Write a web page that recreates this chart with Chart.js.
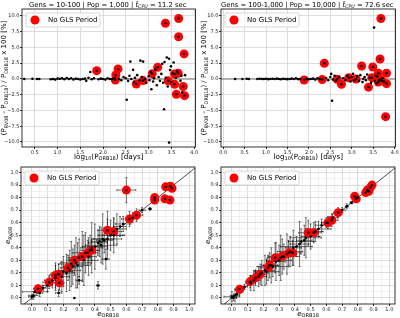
<!DOCTYPE html>
<html>
<head>
<meta charset="utf-8">
<script src="https://cdn.jsdelivr.net/npm/chart.js@4.4.1/dist/chart.umd.min.js"></script>
<style>
body { margin: 0; background: #fff; }
#wrap { position: relative; width: 400px; height: 318px; background: #fff; }
canvas { position: absolute; }
</style>
</head>
<body>
<div id="wrap">
<canvas id="chartTL" width="200" height="162" style="left:0;top:0;width:200px;height:162px"></canvas>
<canvas id="chartTR" width="200" height="162" style="left:200px;top:0;width:200px;height:162px"></canvas>
<canvas id="chartBL" width="200" height="156" style="left:0;top:162px;width:200px;height:156px"></canvas>
<canvas id="chartBR" width="200" height="156" style="left:200px;top:162px;width:200px;height:156px"></canvas>
</div>
<script>
// top left: Gens 10-100, period difference vs log10 P
const tlX = [0.27,0.45,0.55,0.6,0.85,0.9,0.95,1.0,1.05,1.1,1.15,1.2,1.25,1.3,1.35,1.4,1.45,1.5,1.55,1.6,1.63,1.68,1.72,1.75,1.8,1.9,1.95,2.0,2.05,2.1,2.15,2.2,2.25,2.35,2.4,2.45,2.5,2.52,2.55,2.58,2.6,2.62,2.66,2.68,2.7,2.75,2.8,2.82,2.85,2.88,2.92,2.95,3.0,3.02,3.05,3.06,3.1,3.12,3.15,3.18,3.22,3.25,3.28,3.3,3.32,3.34,3.35,3.38,3.4,3.42,3.45,3.45,3.47,3.49,3.5,3.53,3.55,3.6,3.63,3.7,3.72,3.74,3.8];
const tlY = [0.0,0.02,-0.02,0.0,-0.05,0.0,-0.1,0.05,0.02,0.1,-0.05,0.15,0.0,0.1,-0.08,0.05,-0.02,-0.1,0.0,0.05,-0.3,0.2,1.1,-0.05,0.1,-0.05,0.05,0.0,-0.1,0.1,0.0,-0.05,0.15,0.0,-0.2,0.3,0.1,-3.3,-0.3,0.5,2.75,0.0,1.44,-0.5,0.2,0.6,-0.2,2.9,0.3,2.75,0.0,-0.6,0.4,-0.2,1.1,-1.63,-0.4,0.13,1.5,-1.0,0.3,-0.3,0.8,2.4,-0.6,-4.8,2.7,0.2,3.4,-1.2,3.2,-10.1,1.4,2.0,-0.5,0.9,2.6,0.2,1.2,-0.3,0.5,-2.1,0.6];
const tlNgX = [1.86,2.27,2.28,2.33,2.73,2.88,3.08,3.2,3.37,3.43,3.57,3.57,3.65,3.61,3.66,3.66,3.78,3.76,3.79];
const tlNgY = [1.32,-0.16,0.63,1.59,-0.8,-0.26,0.84,1.86,8.84,-0.3,-0.85,0.79,0.9,-2.43,9.6,6.7,3.97,-1.2,-2.65];

// top right: Gens 100-1,000
const trX = [0.28,0.45,0.55,0.6,0.8,0.85,0.9,0.95,1.0,1.05,1.1,1.15,1.2,1.25,1.3,1.35,1.4,1.45,1.5,1.55,1.6,1.65,1.7,1.75,1.8,1.95,2.0,2.05,2.1,2.15,2.2,2.25,2.4,2.45,2.5,2.52,2.54,2.56,2.6,2.63,2.7,2.8,2.85,2.9,2.97,3.0,3.03,3.05,3.13,3.17,3.2,3.25,3.27,3.3,3.33,3.36,3.42,3.45,3.52,3.54,3.56,3.58,3.6,3.64,3.72,3.75];
const trY = [0.0,0.0,0.02,-0.02,0.0,0.02,-0.02,0.0,0.03,-0.03,0.0,0.02,-0.02,0.05,0.0,-0.05,0.02,0.0,-0.03,0.0,0.05,0.0,0.1,-0.05,0.0,0.05,-0.05,0.0,0.05,-0.1,0.1,0.0,0.15,-0.2,0.3,0.8,-3.45,-0.1,0.5,-0.3,0.3,0.1,-0.2,0.5,-0.4,0.3,0.8,-0.2,0.4,-0.3,0.6,-0.5,0.0,0.3,-0.2,0.7,0.2,-0.6,8.15,-0.3,0.5,-0.7,0.4,-0.2,0.1,-0.4];
const trNgX = [1.89,2.31,2.36,2.66,2.76,2.93,3.1,3.23,3.39,3.47,3.49,3.62,3.66,3.66,3.68,3.62,3.7,3.81,3.81,3.79];
const trNgY = [-0.16,-0.1,2.49,-0.05,-0.84,0.19,0.0,2.06,-1.3,0.2,1.9,0.9,3.17,-0.1,9.6,-0.5,-0.3,0.9,-0.75,-5.98];

// bottom left: eccentricities, Gens 10-100
const blX = [0.0,0.01,0.02,0.07,0.13,0.17,0.2,0.22,0.25,0.26,0.27,0.28,0.3,0.3,0.34,0.37,0.4,0.42,0.42,0.44,0.45,0.46,0.47,0.5,0.54,0.56,0.58,0.64,0.7,0.75,0.15,0.19,0.24,0.29,0.33,0.36,0.38,0.43,0.48,0.52,0.1,0.05];
const blY = [0.01,0.02,0.05,0.08,0.14,0.04,0.21,0.2,0.27,0.25,0.0,0.28,0.32,0.14,0.36,0.38,0.41,0.1,0.44,0.42,0.47,0.46,0.31,0.5,0.55,0.57,0.59,0.64,0.7,0.71,0.16,0.17,0.22,0.26,0.3,0.33,0.4,0.45,0.47,0.5,0.1,0.04];
const blXErr = [0.02,0.03,0.08,0.02,0.05,0.02,0.06,0.05,0.08,0.06,0,0.1,0.07,0.02,0.08,0.06,0.08,0.01,0.06,0.1,0.07,0.05,0.02,0.08,0.06,0.04,0.05,0.03,0.02,0.01,0.04,0.05,0.07,0.06,0.09,0.05,0.07,0.05,0.09,0.07,0.03,0.02];
const blYErr = [0.02,0.03,0.01,0.02,0.06,0.03,0.12,0.15,0.18,0.14,0,0.2,0.15,0.03,0.16,0.12,0.18,0.03,0.1,0.14,0.2,0.1,0.08,0.12,0.12,0.08,0.06,0.04,0.02,0.01,0.1,0.12,0.16,0.18,0.2,0.15,0.2,0.12,0.16,0.14,0.05,0.03];
const blNgX = [0.04,0.11,0.15,0.17,0.175,0.23,0.27,0.32,0.355,0.38,0.48,0.52,0.62,0.665,0.6,0.78,0.78,0.85,0.88,0.89,0.845,0.877];
const blNgY = [0.074,0.125,0.18,0.19,0.12,0.24,0.3,0.33,0.36,0.38,0.54,0.53,0.63,0.66,0.86,0.78,0.8,0.886,0.89,0.875,0.79,0.78];
const blNgXErr = [0.03,0.04,0.04,0.05,0.03,0.05,0.04,0.05,0.05,0.04,0.06,0.05,0.05,0.04,0.06,0.02,0.02,0.01,0.01,0.01,0.01,0.01];
const blNgYErr = [0.03,0.05,0.1,0.08,0.06,0.1,0.12,0.2,0.1,0.08,0.15,0.1,0.06,0.05,0.1,0.03,0.03,0.01,0.01,0.01,0.01,0.01];

// bottom right: eccentricities, Gens 100-1,000
const brX = [0.0,0.01,0.02,0.03,0.08,0.12,0.14,0.17,0.19,0.21,0.22,0.25,0.26,0.28,0.3,0.31,0.33,0.35,0.37,0.39,0.41,0.43,0.44,0.46,0.47,0.5,0.53,0.55,0.57,0.6,0.64,0.7,0.73,0.76,0.8,0.86];
const brY = [0.01,0.0,0.02,0.03,0.09,0.12,0.14,0.17,0.2,0.22,0.21,0.26,0.25,0.29,0.3,0.32,0.33,0.35,0.37,0.4,0.41,0.43,0.45,0.46,0.48,0.49,0.53,0.55,0.58,0.6,0.64,0.7,0.73,0.76,0.8,0.86];
const brXErr = [0.05,0.02,0.03,0.02,0.02,0.03,0.04,0.05,0.04,0.06,0.08,0.05,0.1,0.06,0.08,0.05,0.1,0.06,0.08,0.05,0.1,0.06,0.08,0.05,0.1,0.06,0.05,0.08,0.04,0.03,0.03,0.02,0.01,0.01,0.01,0.01];
const brYErr = [0.04,0.02,0.05,0.03,0.02,0.06,0.08,0.08,0.1,0.12,0.1,0.14,0.08,0.15,0.12,0.18,0.1,0.16,0.12,0.14,0.08,0.18,0.1,0.12,0.16,0.1,0.08,0.06,0.05,0.04,0.03,0.02,0.02,0.01,0.02,0.01];
const brNgX = [0.05,0.116,0.15,0.18,0.23,0.24,0.275,0.32,0.36,0.386,0.485,0.52,0.61,0.635,0.675,0.78,0.79,0.85,0.86,0.88,0.89,0.87];
const brNgY = [0.07,0.13,0.16,0.19,0.24,0.26,0.32,0.33,0.36,0.36,0.52,0.52,0.6,0.62,0.68,0.81,0.79,0.84,0.86,0.88,0.9,0.85];
const brNgXErr = [0.03,0.03,0.04,0.04,0.05,0.05,0.05,0.06,0.05,0.05,0.06,0.05,0.04,0.04,0.03,0.02,0.02,0.01,0.01,0.01,0.01,0.01];
const brNgYErr = [0.03,0.05,0.06,0.08,0.1,0.1,0.12,0.14,0.1,0.1,0.1,0.08,0.05,0.05,0.04,0.02,0.02,0.01,0.01,0.01,0.01,0.01];

// tick labels
const pctTicks = [-10, -7.5, -5, -2.5, 0, 2.5, 5, 7.5, 10];
const logTicksTL = [0.5, 1.0, 1.5, 2.0, 2.5, 3.0, 3.5, 4.0];
const logTicksTR = [0.0, 0.5, 1.0, 1.5, 2.0, 2.5, 3.0, 3.5, 4.0];
const eccTicks = [0, 0.1, 0.2, 0.3, 0.4, 0.5, 0.6, 0.7, 0.8, 0.9, 1.0];
const eccMinorX = [-0.05, 0.05, 0.15, 0.25, 0.35, 0.45, 0.55, 0.65, 0.75, 0.85, 0.95];
const eccMinorY = [0.05, 0.15, 0.25, 0.35, 0.45, 0.55, 0.65, 0.75, 0.85, 0.95];

const FONT = '"DejaVu Sans", sans-serif';
const RED = '#ff0000';

function pts(xs, ys) {
    return xs.map((x, i) => ({ x: x, y: ys[i] }));
}

function fmt(v) {
    return v.toFixed(1).replace('-', '\u2212');
}

// draws text with subscripts: parts = [[text, isSub, isItalic], ...]
function drawRich(ctx, parts, x, y, size, angle) {
    const subSize = size * 0.7;
    const fontFor = p => (p[2] ? 'italic ' : '') + (p[1] ? subSize : size) + 'px ' + FONT;
    ctx.save();
    ctx.translate(x, y);
    if (angle) ctx.rotate(angle);
    let w = 0;
    parts.forEach(p => { ctx.font = fontFor(p); w += ctx.measureText(p[0]).width; });
    let cx = -w / 2;
    ctx.fillStyle = '#000';
    ctx.textAlign = 'left';
    ctx.textBaseline = 'middle';
    parts.forEach(p => {
        ctx.font = fontFor(p);
        ctx.fillText(p[0], cx, p[1] ? size * 0.3 : 0);
        cx += ctx.measureText(p[0]).width;
    });
    ctx.restore();
}

const decor = {
    id: 'decor',
    beforeDatasetsDraw(chart) {
        const o = chart.options.plugins.decor;
        const { ctx, chartArea: a, scales } = chart;
        ctx.save();
        ctx.beginPath();
        ctx.rect(a.left, a.top, a.right - a.left, a.bottom - a.top);
        ctx.clip();
        if (o.zeroLine) {
            const y = scales.y.getPixelForValue(0);
            ctx.strokeStyle = '#9a9a9a';
            ctx.lineWidth = 1.6;
            ctx.beginPath();
            ctx.moveTo(a.left, y);
            ctx.lineTo(a.right, y);
            ctx.stroke();
        }
        if (o.diagonal) {
            const lo = Math.min(scales.x.min, scales.y.min);
            const hi = Math.max(scales.x.max, scales.y.max);
            ctx.strokeStyle = '#000';
            ctx.lineWidth = 0.7;
            ctx.beginPath();
            ctx.moveTo(scales.x.getPixelForValue(lo), scales.y.getPixelForValue(lo));
            ctx.lineTo(scales.x.getPixelForValue(hi), scales.y.getPixelForValue(hi));
            ctx.stroke();
        }
        // error bars
        chart.data.datasets.forEach(ds => {
            if (!ds.errX) return;
            ctx.strokeStyle = 'rgba(0,0,0,0.75)';
            ctx.lineWidth = 0.7;
            ds.data.forEach((p, i) => {
                const ex = ds.errX[i], ey = ds.errY[i];
                const px = scales.x.getPixelForValue(p.x);
                const py = scales.y.getPixelForValue(p.y);
                ctx.beginPath();
                if (ex > 0) {
                    const x0 = scales.x.getPixelForValue(p.x - ex);
                    const x1 = scales.x.getPixelForValue(p.x + ex);
                    ctx.moveTo(x0, py); ctx.lineTo(x1, py);
                    ctx.moveTo(x0, py - 1); ctx.lineTo(x0, py + 1);
                    ctx.moveTo(x1, py - 1); ctx.lineTo(x1, py + 1);
                }
                if (ey > 0) {
                    const y0 = scales.y.getPixelForValue(p.y - ey);
                    const y1 = scales.y.getPixelForValue(p.y + ey);
                    ctx.moveTo(px, y0); ctx.lineTo(px, y1);
                    ctx.moveTo(px - 1, y0); ctx.lineTo(px + 1, y0);
                    ctx.moveTo(px - 1, y1); ctx.lineTo(px + 1, y1);
                }
                ctx.stroke();
            });
        });
        ctx.restore();
    },
    afterDatasetsDraw(chart) {
        // legend box
        const { ctx, chartArea: a } = chart;
        const lx = a.left + 4, ly = a.top + 4, lw = 74, lh = 14;
        ctx.save();
        ctx.fillStyle = 'rgba(255,255,255,0.8)';
        ctx.strokeStyle = '#cccccc';
        ctx.lineWidth = 0.8;
        ctx.beginPath();
        ctx.roundRect(lx, ly, lw, lh, 2);
        ctx.fill();
        ctx.stroke();
        ctx.fillStyle = RED;
        ctx.beginPath();
        ctx.arc(lx + 9, ly + lh / 2, 4.5, 0, Math.PI * 2);
        ctx.fill();
        ctx.fillStyle = '#000';
        ctx.font = '7px ' + FONT;
        ctx.textBaseline = 'middle';
        ctx.fillText('No GLS Period', lx + 22, ly + lh / 2 + 0.5);
        ctx.restore();
    },
    afterDraw(chart) {
        const o = chart.options.plugins.decor;
        const { ctx, chartArea: a } = chart;
        ctx.save();
        ctx.strokeStyle = '#000';
        ctx.lineWidth = 0.8;
        ctx.strokeRect(a.left, a.top, a.right - a.left, a.bottom - a.top);
        ctx.restore();
        const cx = (a.left + a.right) / 2, cy = (a.top + a.bottom) / 2;
        if (o.title) drawRich(ctx, o.title, cx - 1, 5, 6.8, 0);
        drawRich(ctx, o.xTitle, cx, o.xTitleY, 7.2, 0);
        drawRich(ctx, o.yTitle, o.yTitleX, cy, 7, -Math.PI / 2);
    }
};
Chart.register(decor);

function axis(min, max, major, minor, fitSize, isX) {
    const all = major.concat(minor).filter(v => v >= min && v <= max);
    return {
        type: 'linear',
        min: min,
        max: max,
        afterBuildTicks: s => { s.ticks = all.map(v => ({ value: v })); },
        afterFit: s => {
            if (isX) s.height = fitSize; else s.width = fitSize;
            s.paddingLeft = 0; s.paddingRight = 0; s.paddingTop = 0; s.paddingBottom = 0;
        },
        grid: {
            color: c => (c.tick && major.includes(c.tick.value)) ? '#d4d4d4' : '#ececec',
            tickColor: c => (c.tick && major.includes(c.tick.value)) ? '#000' : 'rgba(0,0,0,0)',
            tickLength: 2,
            lineWidth: 0.8
        },
        border: { display: false },
        ticks: {
            font: { family: FONT, size: 5 },
            color: '#222',
            padding: 0.5,
            maxRotation: 0,
            autoSkip: false,
            callback: v => major.includes(v) ? fmt(v) : ''
        }
    };
}

function makeChart(id, black, noGls, errs, cfg) {
    const blackSet = {
        data: black,
        pointRadius: 1.3,
        pointBackgroundColor: '#000',
        pointBorderWidth: 0
    };
    if (errs) { blackSet.errX = errs[0]; blackSet.errY = errs[1]; }
    new Chart(document.getElementById(id), {
        type: 'scatter',
        data: {
            datasets: [blackSet, {
                data: noGls,
                pointRadius: 4.5,
                pointBackgroundColor: RED,
                pointBorderWidth: 0
            }]
        },
        options: {
            responsive: false,
            animation: false,
            layout: { padding: cfg.padding },
            plugins: {
                legend: { display: false },
                tooltip: { enabled: false },
                decor: cfg.decor
            },
            scales: { x: cfg.x, y: cfg.y }
        }
    });
}

const pctTitle = [['(P'], ['RV08', 1], [' - P'], ['ORB18', 1], [') / P'], ['ORB18', 1], [' x 100 [%]']];
const logTitle = [['log'], ['10', 1], ['(P'], ['ORB18', 1], [') [days]']];

makeChart('chartTL',
    pts(tlX.concat(tlNgX), tlY.concat(tlNgY)), pts(tlNgX, tlNgY), null, {
    padding: { top: 9, right: 2, left: 0, bottom: 0 },
    x: axis(0.22, 4.03, logTicksTL, [], 15, true),
    y: axis(-10.8, 11.1, pctTicks, [], 22, false),
    decor: {
        zeroLine: true,
        title: [['Gens = 10-100 | Pop = 1,000 | '], ['t\u0304', 0, 1], ['CPU', 1, 1], [' = 11.2 sec']],
        xTitle: logTitle, xTitleY: 157,
        yTitle: pctTitle, yTitleX: 4.5
    }
});

makeChart('chartTR',
    pts(trX.concat(trNgX), trY.concat(trNgY)), pts(trNgX, trNgY), null, {
    padding: { top: 9, right: 2, left: 0, bottom: 0 },
    x: axis(-0.05, 4.02, logTicksTR, [], 15, true),
    y: axis(-10.8, 11.1, pctTicks, [], 21, false),
    decor: {
        zeroLine: true,
        title: [['Gens = 100-1,000 | Pop = 10,000 | '], ['t\u0304', 0, 1], ['CPU', 1, 1], [' = 72.6 sec']],
        xTitle: logTitle, xTitleY: 157,
        yTitle: pctTitle, yTitleX: 4.5
    }
});

makeChart('chartBL',
    pts(blX.concat(blNgX), blY.concat(blNgY)), pts(blNgX, blNgY),
    [blXErr.concat(blNgXErr), blYErr.concat(blNgYErr)], {
    padding: { top: 5, right: 5, left: 0, bottom: 0 },
    x: axis(-0.069, 1.036, eccTicks, eccMinorX, 14, true),
    y: axis(-0.048, 1.044, eccTicks, eccMinorY, 21, false),
    decor: {
        diagonal: true,
        xTitle: [['e', 0, 1], ['ORB18', 1]], xTitleY: 152,
        yTitle: [['e', 0, 1], ['RV08', 1]], yTitleX: 8.5
    }
});

makeChart('chartBR',
    pts(brX.concat(brNgX), brY.concat(brNgY)), pts(brNgX, brNgY),
    [brXErr.concat(brNgXErr), brYErr.concat(brNgYErr)], {
    padding: { top: 5, right: 5, left: 0, bottom: 0 },
    x: axis(-0.069, 1.036, eccTicks, eccMinorX, 14, true),
    y: axis(-0.048, 1.044, eccTicks, eccMinorY, 21, false),
    decor: {
        diagonal: true,
        xTitle: [['e', 0, 1], ['ORB18', 1]], xTitleY: 152,
        yTitle: [['e', 0, 1], ['RV08', 1]], yTitleX: 8.5
    }
});
</script>
</body>
</html>
